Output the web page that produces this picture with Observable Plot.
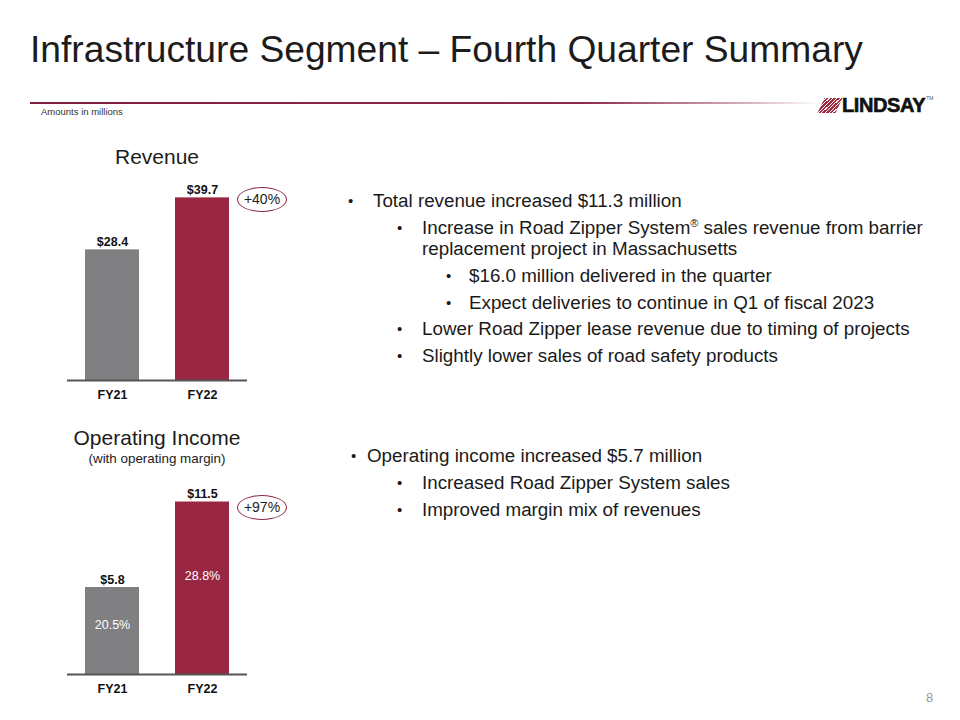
<!DOCTYPE html>
<html>
<head>
<meta charset="utf-8">
<script src="https://cdn.jsdelivr.net/npm/d3@7"></script>
<script src="https://cdn.jsdelivr.net/npm/@observablehq/plot@0.6"></script>
<style>
  html, body { margin: 0; padding: 0; background: #fff; }
  body { width: 960px; height: 720px; position: relative; overflow: hidden; font-family: "Liberation Sans", Arial, sans-serif; color: #1a1a1a; }
  .abs { position: absolute; }
  #title { left: 30px; top: 28px; font-size: 37.2px; white-space: nowrap; color: #1c1c1c; }
  #rule { left: 30px; top: 102px; width: 790px; height: 1.5px; background: linear-gradient(to right, #7a1f3d 0%, #8b2a48 70%, rgba(160,80,110,0.4) 92%, rgba(255,255,255,0) 100%); }
  #amounts { left: 41px; top: 106px; font-size: 9.5px; color: #333; }
  #logo { left: 818px; top: 95px; height: 20px; display: flex; align-items: center; }
  #logo .mark { width: 18px; height: 15px; transform: skewX(-25deg); background: repeating-linear-gradient(-60deg, #a0283f 0 2.2px, #fff 2.2px 3.2px); margin-right: 3px; margin-left: 3px; }
  #logo .word { font-weight: bold; font-size: 20px; letter-spacing: -0.4px; color: #111; font-family: "Liberation Sans", Arial, sans-serif; -webkit-text-stroke: 0.6px #111; }
  #logo .tm { font-size: 5px; align-self: flex-start; margin-left: 1px; color: #555; }
  .ctitle { font-size: 21px; text-align: center; width: 200px; color: #1c1c1c; }
  .csub { font-size: 13.4px; text-align: center; width: 200px; color: #1c1c1c; }
  .growth { width: 48px; height: 23px; border: 1.3px solid #8b2a48; border-radius: 50%; font-size: 14px; text-align: center; line-height: 23px; color: #1c1c1c; }
  .bl { font-size: 18.8px; white-space: nowrap; color: #1a1a1a; line-height: 21px; }
  .bl sup { font-size: 11px; line-height: 0; }
  .dot { font-size: 15px; }
  #page { left: 926px; top: 690px; font-size: 13px; color: #999; }
</style>
</head>
<body>
<div id="title" class="abs">Infrastructure Segment – Fourth Quarter Summary</div>
<div id="rule" class="abs"></div>
<div id="amounts" class="abs">Amounts in millions</div>
<div id="logo" class="abs"><div class="mark"></div><span class="word">LINDSAY</span><span class="tm">TM</span></div>

<div class="abs ctitle" style="left:57px; top:145px;">Revenue</div>
<div class="abs ctitle" style="left:57px; top:426px;">Operating Income</div>
<div class="abs csub" style="left:57px; top:451px;">(with operating margin)</div>

<div id="chart1" class="abs" style="left:60px; top:140px;"></div>
<div id="chart2" class="abs" style="left:60px; top:470px;"></div>

<div id="g1" class="abs growth" style="left:237px; top:187px;"></div>
<div id="g2" class="abs growth" style="left:237px; top:495px;"></div>

<div id="bullets"></div>
<div id="page" class="abs">8</div>

<script>
// ---- data ----
const years = ["FY21", "FY22"];
const revenue = [28.4, 39.7];
const operatingIncome = [5.8, 11.5];
const operatingMargin = ["20.5%", "28.8%"];
const revenueGrowth = "+40%";
const incomeGrowth = "+97%";
const barColors = ["#808083", "#9a2742"];

const revenueBullets = [
  {level: 0, text: "Total revenue increased $11.3 million"},
  {level: 1, text: "Increase in Road Zipper System<sup>®</sup> sales revenue from barrier<br>replacement project in Massachusetts"},
  {level: 2, text: "$16.0 million delivered in the quarter"},
  {level: 2, text: "Expect deliveries to continue in Q1 of fiscal 2023"},
  {level: 1, text: "Lower Road Zipper lease revenue due to timing of projects"},
  {level: 1, text: "Slightly lower sales of road safety products"}
];
const incomeBullets = [
  {level: 0, text: "Operating income increased $5.7 million"},
  {level: 1, text: "Increased Road Zipper System sales"},
  {level: 1, text: "Improved margin mix of revenues"}
];

// ---- charts ----
const rev = years.map((y, i) => ({year: y, value: revenue[i], color: barColors[i]}));
const inc = years.map((y, i) => ({year: y, value: operatingIncome[i], margin: operatingMargin[i], color: barColors[i]}));

function barChart(data, {height, marginTop, marginBottom, yMax, inner}) {
  const marks = [
    Plot.barY(data, {x: "year", y: "value", fill: "color"}),
    Plot.ruleY([0], {stroke: "#555", strokeWidth: 2}),
    Plot.text(data, {x: "year", y: "value", text: d => "$" + d.value.toFixed(1), lineAnchor: "bottom", dy: -4, fontWeight: "bold", fontSize: 12.5, fill: "#111"})
  ];
  if (inner) {
    marks.push(Plot.text(data, {x: "year", y: d => d.value * 0.57, text: "margin", fill: "#fff", fontSize: 12.5}));
  }
  return Plot.plot({
    width: 240, height, marginLeft: 7, marginRight: 53, marginTop, marginBottom,
    style: {fontFamily: "Liberation Sans, Arial, sans-serif", background: "transparent"},
    x: {domain: years, paddingInner: 0.4, paddingOuter: 0.2, label: null},
    y: {domain: [0, yMax], axis: null},
    color: {type: "identity"},
    marks: [...marks, Plot.axisX({tickSize: 0, tickPadding: 10, label: null, fontWeight: "bold", fontSize: 12.5, fill: "#111"})]
  });
}

document.getElementById("chart1").append(barChart(rev, {height: 270, marginTop: 40, marginBottom: 30, yMax: 200 / 4.6}));
document.getElementById("chart2").append(barChart(inc, {height: 230, marginTop: 20, marginBottom: 26, yMax: 184 / 15, inner: true}));

document.getElementById("g1").textContent = revenueGrowth;
document.getElementById("g2").textContent = incomeGrowth;

// ---- bullets ----
function bulletBlock(items, top, cfg, gaps) {
  const c = document.getElementById("bullets");
  let y = top;
  items.forEach((it, i) => {
    const d = document.createElement("div");
    d.className = "abs bl";
    d.style.left = cfg[it.level].text + "px";
    d.style.top = y + "px";
    d.innerHTML = it.text;
    c.append(d);
    const b = document.createElement("div");
    b.className = "abs bl dot";
    b.style.left = cfg[it.level].dot + "px";
    b.style.top = y + "px";
    b.textContent = "•";
    c.append(b);
    y += gaps[i];
  });
}
bulletBlock(revenueBullets, 190, [{dot: 348, text: 373}, {dot: 397, text: 422}, {dot: 446, text: 469}], [27, 48, 27, 26, 27, 27]);
bulletBlock(incomeBullets, 445, [{dot: 351, text: 367}, {dot: 397, text: 422}], [27, 27, 27]);
</script>
</body>
</html>
